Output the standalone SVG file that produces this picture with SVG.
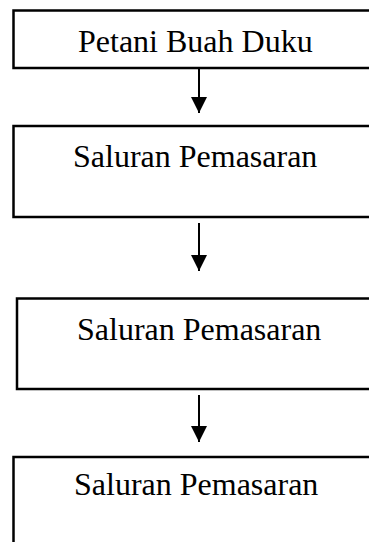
<svg xmlns="http://www.w3.org/2000/svg" width="369" height="542" viewBox="0 0 369 542">
  <style>
    .box { fill: #ffffff; stroke: #000000; stroke-width: 2.5; }
    .label { font-family: "Liberation Serif", "Times New Roman", serif; font-size: 32px; fill: #000000; }
    .link { stroke: #000000; stroke-width: 2; fill: none; marker-end: url(#head); }
  </style>
  <defs>
    <marker id="head" markerUnits="userSpaceOnUse" markerWidth="16" markerHeight="16" refX="16" refY="8" orient="auto">
      <path d="M0,0 L16,8 L0,16 Z" fill="#000000"/>
    </marker>
  </defs>
  <rect width="369" height="542" fill="#ffffff"/>

  <g id="petani">
    <rect class="box" x="13.5" y="10.5" width="380" height="57.5"/>
    <text class="label" x="78" y="52">Petani Buah Duku</text>
  </g>

  <g id="saluran-1">
    <rect class="box" x="13.5" y="126" width="380" height="91"/>
    <text class="label" x="73" y="167">Saluran Pemasaran</text>
  </g>

  <g id="saluran-2">
    <rect class="box" x="17" y="298.5" width="380" height="90.5"/>
    <text class="label" x="77" y="340">Saluran Pemasaran</text>
  </g>

  <g id="saluran-3">
    <rect class="box" x="13.5" y="457" width="380" height="120"/>
    <text class="label" x="74" y="495">Saluran Pemasaran</text>
  </g>

  <g id="connectors">
    <line class="link" x1="199" y1="69" x2="199" y2="113"/>
    <line class="link" x1="199" y1="223" x2="199" y2="271"/>
    <line class="link" x1="199" y1="395" x2="199" y2="442"/>
  </g>
</svg>
